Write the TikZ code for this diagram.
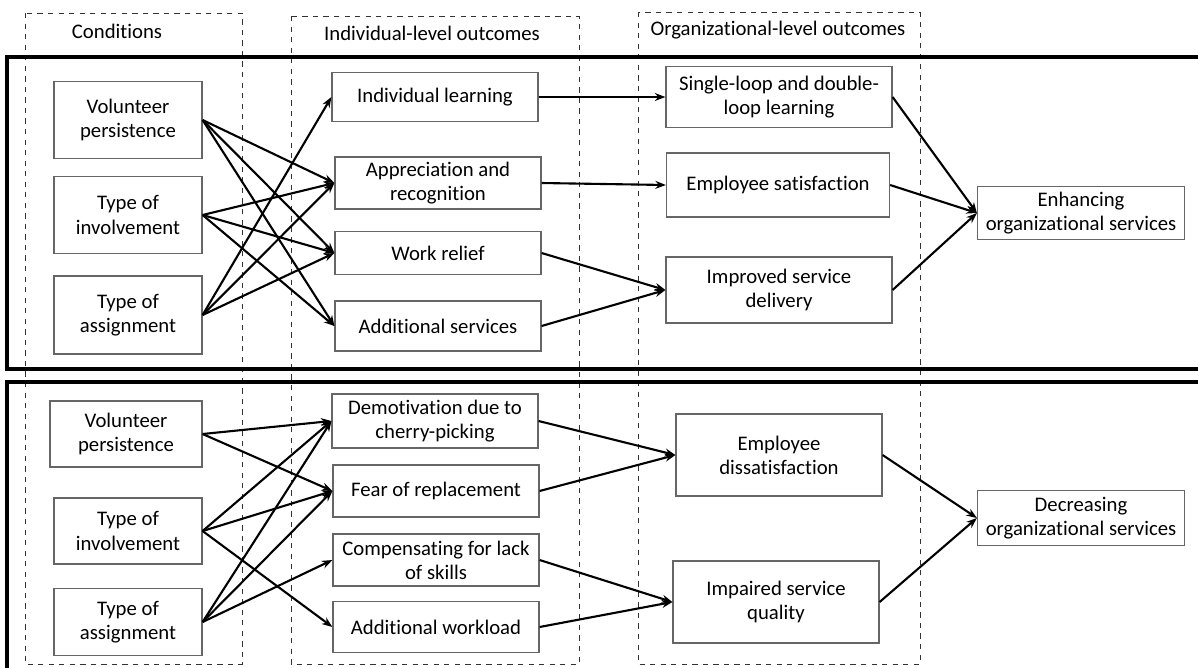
\documentclass[tikz,border=0pt]{standalone}
\usepackage{fontspec}
\setmainfont{Carlito}[Ligatures={NoCommon,NoRequired,NoContextual}]
\usetikzlibrary{arrows.meta}
\begin{document}
\begin{tikzpicture}[x=0.02cm, y=-0.02cm, font=\fontsize{11.8}{13.8}\selectfont]
       \tikzstyle{box}=[draw=black!60, line width=0.7pt, align=center, inner sep=2pt]
       \tikzstyle{condnode}=[box, minimum width=2.96cm]
       \tikzstyle{indnode}=[box, minimum width=4.12cm]
       \tikzstyle{orgnode}=[box, minimum width=4.5cm]
       \tikzstyle{column}=[draw=black!80, dashed, line width=0.5pt]
       \tikzstyle{frame}=[draw, line width=1.8pt]
       \tikzstyle{link}=[draw, line width=1.2pt, -{Stealth[length=6pt, width=4.5pt]}]
       \clip (0,0) rectangle (1198,667);
       % columns
       \draw[column] (25,13) rectangle (242,664);
       \draw[column] (291,16) rectangle (579,664);
       \draw[column] (638,12) rectangle (920,664);
       \node (hcond) at (117,31) {Conditions};
       \node (hind) at (432,33) {Individual-level outcomes};
       \node (horg) at (778,30) {Organizational-level outcomes};
       % frames
       \draw[frame] (7,57) rectangle (1215,369);
       \draw[frame] (7,382) rectangle (1215,690);
       % enhancing
       \node[condnode, minimum height=1.54cm] (vp1) at (128,120) {Volunteer\\persistence};
       \node[condnode, minimum height=1.54cm] (ti1) at (128,215) {Type of\\involvement};
       \node[condnode, minimum height=1.56cm] (ta1) at (128,315) {Type of\\assignment};
       \node[indnode, minimum height=0.98cm] (il) at (435,97) {Individual learning};
       \node[indnode, minimum height=1.04cm] (ar) at (438,183) {Appreciation and\\recognition};
       \node[indnode, minimum height=0.86cm] (wr) at (438,253) {Work relief};
       \node[indnode, minimum height=1.0cm] (as) at (438,326) {Additional services};
       \node[orgnode, minimum width=4.52cm, minimum height=1.22cm] (sl) at (779,97) {Single-loop and double-\\loop learning};
       \node[orgnode, minimum width=4.46cm, minimum height=1.28cm] (es) at (778,185) {Employee satisfaction};
       \node[orgnode, minimum width=4.52cm, minimum height=1.32cm] (isd) at (779,290) {Improved service\\delivery};
       \node[box, minimum width=4.14cm, minimum height=1.06cm] (enh) at (1081,213) {Enhancing\\organizational services};
       % decreasing
       \node[condnode, minimum width=3.04cm, minimum height=1.32cm] (vp2) at (126,434) {Volunteer\\persistence};
       \node[condnode, minimum height=1.32cm] (ti2) at (128,531) {Type of\\involvement};
       \node[condnode, minimum height=1.34cm] (ta2) at (128,622) {Type of\\assignment};
       \node[indnode, minimum height=1.08cm] (dm) at (435,421) {Demotivation due to\\cherry-picking};
       \node[indnode, minimum height=1.04cm] (fr) at (436,491) {Fear of replacement};
       \node[indnode, minimum height=1.04cm] (cl) at (436,560) {Compensating for lack\\of skills};
       \node[indnode, minimum height=1.02cm] (aw) at (436,627) {Additional workload};
       \node[orgnode, minimum width=4.12cm, minimum height=1.64cm] (ed) at (779,455) {Employee\\dissatisfaction};
       \node[orgnode, minimum width=4.12cm, minimum height=1.64cm] (isq) at (776,602) {Impaired service\\quality};
       \node[box, minimum width=4.14cm, minimum height=1.1cm] (dec) at (1081,518) {Decreasing\\organizational services};
       % links
       \foreach \src/\dst in {vp1/ar, vp1/wr, vp1/as, ti1/ar, ti1/wr, ti1/as, ta1/il, ta1/ar, ta1/wr,
                              il/sl, ar/es, wr/isd, as/isd, sl/enh, es/enh, isd/enh,
                              vp2/dm, vp2/fr, ti2/dm, ti2/fr, ti2/aw, ta2/dm, ta2/fr, ta2/cl,
                              dm/ed, fr/ed, cl/isq, aw/isq, ed/dec, isq/dec}
         \draw[link] (\src.east) -- (\dst.west);
      \end{tikzpicture}
\end{document}
